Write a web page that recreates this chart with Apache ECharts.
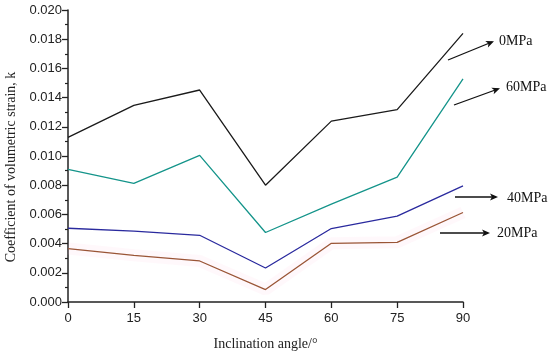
<!DOCTYPE html>
<html><head><meta charset="utf-8">
<script src="https://cdn.jsdelivr.net/npm/echarts@6/dist/echarts.min.js"></script>
<style>html,body{margin:0;padding:0;background:#fff}#c{width:550px;height:356px}</style>
</head><body><div id="c"></div>
<script>
const angles = [0, 15, 30, 45, 60, 75, 90];
const s0MPa  = [0.01127, 0.01347, 0.01452, 0.0080, 0.01239, 0.01318, 0.0184];
const s60MPa = [0.00908, 0.00812, 0.01004, 0.00476, 0.0067, 0.00855, 0.01528];
const s40MPa = [0.00505, 0.00485, 0.00457, 0.00233, 0.00503, 0.00588, 0.00795];
const s20MPa = [0.00366, 0.0032, 0.00281, 0.00085, 0.00402, 0.00409, 0.00613];
const yTicks = { min: 0, max: 0.02, interval: 0.002 };
const xTicks = { min: 0, max: 90, interval: 15 };

const pair = arr => angles.map((a, i) => [a, arr[i]]);
const chart = echarts.init(document.getElementById('c'), null, { renderer: 'canvas' });
const axisFont = { fontFamily: 'Liberation Sans, Arial', fontSize: 13, color: '#222' };
const nameFont = { fontFamily: 'Liberation Serif, Times New Roman', fontSize: 14, color: '#222' };
const arrowLine = (x1, y1, x2, y2) => ({
  type: 'line', shape: { x1, y1, x2, y2 },
  style: { stroke: '#111', lineWidth: 1.3 }
});
const arrowHead = (x, y, ang) => ({
  type: 'polygon', x, y, rotation: ang,
  shape: { points: [[0, 0], [-8, -3.5], [-6, 0], [-8, 3.5]] },
  style: { fill: '#111' }
});
const label = (x, y, t) => ({
  type: 'text', x, y,
  style: { text: t, fill: '#111', font: '14px "Liberation Serif", "Times New Roman"', textVerticalAlign: 'middle' }
});
chart.setOption({
  animation: false,
  backgroundColor: '#fff',
  grid: { left: 68, right: 87, top: 10, bottom: 54, containLabel: false, outerBoundsMode: 'none' },
  xAxis: {
    type: 'value', min: xTicks.min, max: xTicks.max, interval: xTicks.interval,
    name: 'Inclination angle/°', nameLocation: 'middle', nameGap: 35,
    nameTextStyle: nameFont,
    axisLine: { lineStyle: { color: '#222', width: 1.5 } },
    axisTick: { inside: false, length: 6, lineStyle: { color: '#222', width: 1.3 } },
    axisLabel: Object.assign({ margin: 10 }, axisFont),
    splitLine: { show: false }
  },
  yAxis: {
    type: 'value', min: yTicks.min, max: yTicks.max, interval: yTicks.interval,
    name: 'Coefficient of volumetric strain, k', nameLocation: 'middle', nameGap: 49,
    nameTextStyle: Object.assign({ padding: [0, 22, 0, 0] }, nameFont),
    axisLine: { show: true, lineStyle: { color: '#222', width: 1.5 } },
    axisTick: { inside: false, length: 6, lineStyle: { color: '#222', width: 1.3 } },
    minorTick: { show: true, splitNumber: 2, length: 3, lineStyle: { color: '#222', width: 1.2 } },
    axisLabel: Object.assign({ margin: 6, formatter: v => v.toFixed(3) }, axisFont),
    splitLine: { show: false }
  },
  series: [
    { type: 'line', data: pair(s20MPa), symbol: 'none', silent: true, z: 1,
      lineStyle: { color: 'rgba(255,200,225,0.12)', width: 12 } },
    { name: '0MPa', type: 'line', data: pair(s0MPa), symbol: 'none', lineStyle: { color: '#1a1a1a', width: 1.3 } },
    { name: '60MPa', type: 'line', data: pair(s60MPa), symbol: 'none', lineStyle: { color: '#14948a', width: 1.3 } },
    { name: '40MPa', type: 'line', data: pair(s40MPa), symbol: 'none', lineStyle: { color: '#2a2a9e', width: 1.3 } },
    { name: '20MPa', type: 'line', data: pair(s20MPa), symbol: 'none', lineStyle: { color: '#9a5536', width: 1.3 } }
  ],
  graphic: [
    arrowLine(448, 60, 492, 42), arrowHead(494, 41.2, Math.atan2(18, 44)), label(499, 41, '0MPa'),
    arrowLine(454, 105, 498, 89), arrowHead(500, 88.3, Math.atan2(16, 44)), label(506, 87, '60MPa'),
    arrowLine(455, 197, 496, 197), arrowHead(498, 197, 0), label(507, 198, '40MPa'),
    arrowLine(440, 233, 488, 233), arrowHead(490, 233, 0), label(497, 233, '20MPa')
  ]
});
</script></body></html>
